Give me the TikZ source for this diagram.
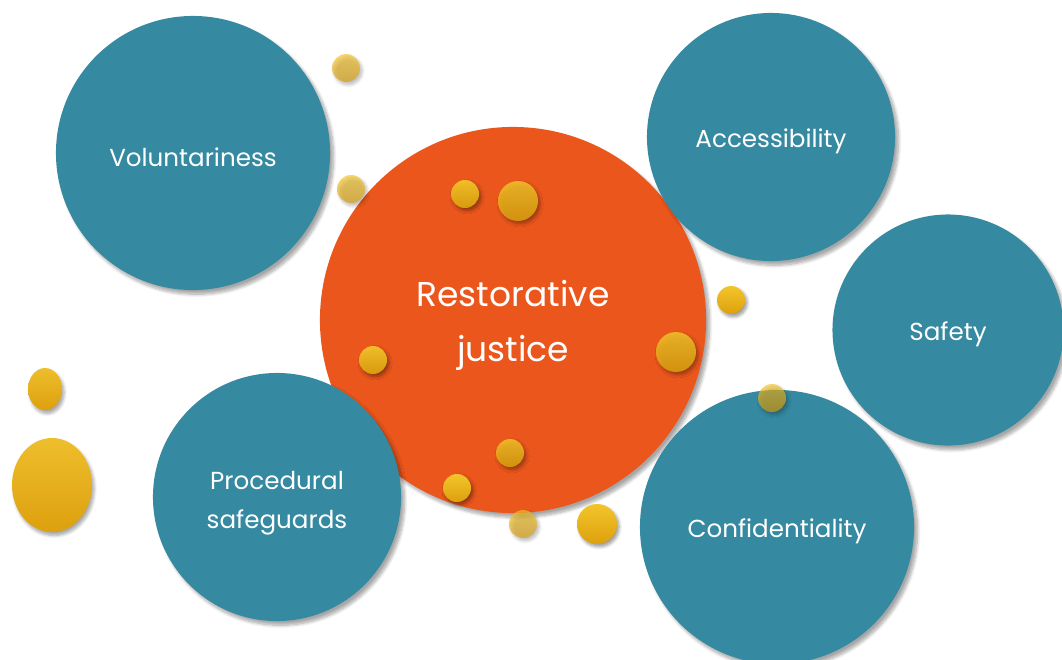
\documentclass[tikz,border=0pt]{standalone}
\usepackage{fontspec}
\setmainfont{Poppins}
\usetikzlibrary{shadows.blur,shapes.geometric}

\definecolor{bubbleblue}{HTML}{3589A0}
\definecolor{rjorange}{HTML}{EB561C}
\definecolor{ballhi}{HTML}{F3C52A}
\definecolor{balllo}{HTML}{DDA00E}

\tikzset{
  bubble/.style={circle,fill=bubbleblue,inner sep=0pt,minimum size=#1*0.05cm,
    blur shadow={shadow xshift=2.5pt,shadow yshift=-3pt,shadow blur steps=8,shadow opacity=35}},
  lbl/.style={text=white,align=center,yshift=-0.11cm,font=\fontsize{17.5}{28}\selectfont},
  ball/.style={circle,inner sep=0pt,minimum size=#1*0.05cm,top color=ballhi,bottom color=balllo,
    blur shadow={shadow xshift=1.5pt,shadow yshift=-2pt,shadow blur steps=6,shadow opacity=40}},
  egg/.style={ellipse,inner sep=0pt,top color=ballhi!90!brown,bottom color=balllo,
    blur shadow={shadow xshift=1.5pt,shadow yshift=-2.5pt,shadow blur steps=6,shadow opacity=35}}
}

\begin{document}
\begin{tikzpicture}[x=0.025cm,y=-0.025cm]
\clip (0,0) rectangle (1062,659);

% centre circle first, the others sit on top of it
\node[bubble=193,fill=rjorange,
  label={[lbl,yshift=-0.03cm,font=\fontsize{24.5}{39}\selectfont]center:{Restorative\\justice}}] (rj) at (513,320) {};

\node[bubble=137,label={[lbl]center:Voluntariness}] (vol) at (193,153) {};
\node[bubble=124,label={[lbl]center:Accessibility}] (acc) at (771,137) {};
\node[bubble=115.5,label={[lbl]center:Safety}] (saf) at (948,330) {};
\node[bubble=137,label={[lbl]center:Confidentiality}] (conf) at (777,527) {};
\node[bubble=124,label={[lbl,yshift=-0.04cm]center:{Procedural\\safeguards}}] (proc) at (277,497) {};

% small balls scattered around
\foreach \x/\y/\r/\o [count=\i] in {346/68/14/0.65, 351/189/14/0.65, 465/194/14/0.95, 518/201/20/0.85,
    373/360/14/0.95, 676/352/20/0.85, 731/300/14/1, 772/398/14/0.65,
    510/453/14/0.85, 457/488/14/1, 523/524/14/0.65, 597/524/20/1}
  \node[ball=\r,opacity=\o] (b\i) at (\x,\y) {};

\node[egg,minimum width=34*0.025cm,minimum height=42*0.025cm] (e1) at (45,389) {};
\node[egg,minimum width=80*0.025cm,minimum height=94*0.025cm] (e2) at (52,485) {};
\end{tikzpicture}
\end{document}
